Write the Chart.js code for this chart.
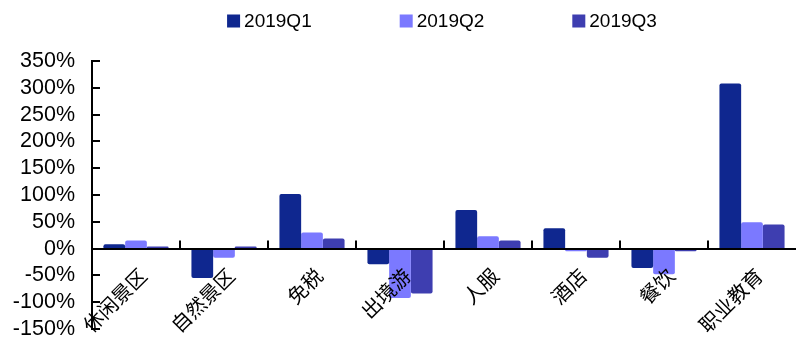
<!DOCTYPE html>
<html>
<head>
<meta charset="utf-8">
<title>2019 行业增速</title>
<script src="https://cdn.jsdelivr.net/npm/chart.js@4"></script>
<style>
    html, body { margin: 0; padding: 0; background: #ffffff; }
    #wrap { width: 796px; height: 340px; }
</style>
</head>
<body>
<div id="wrap"><canvas id="growthChart" width="796" height="340"></canvas></div>
<script>
// 各板块同比增速（%）
const categories = ["休闲景区", "自然景区", "免税", "出境游", "人服", "酒店", "餐饮", "职业教育"];
const seriesNames = ["2019Q1", "2019Q2", "2019Q3"];
const q1Values = [8, -55, 102, -29, 72, 38, -36, 308];
const q2Values = [15, -17, 30, -92, 23, -5, -48, 49];
const q3Values = [4, 4, 19, -84, 15, -17, -5, 45];
const yTicks = [-150, -100, -50, 0, 50, 100, 150, 200, 250, 300, 350];

const colors = ["#0f278f", "#7b79ff", "#3e3eb0"];
const latin = "'Liberation Sans', Arial, sans-serif";

// 图例：居中画在顶部
const topLegend = {
    id: "topLegend",
    afterDraw(chart) {
        const ctx = chart.ctx;
        const sets = chart.data.datasets;
        const box = 13, gap = 4, space = 88;
        ctx.save();
        ctx.font = "19px " + latin;
        ctx.textBaseline = "middle";
        const widths = sets.map(ds => box + gap + ctx.measureText(ds.label).width);
        const total = widths.reduce((a, b) => a + b, 0) + space * (sets.length - 1);
        let x = (chart.chartArea.left + chart.chartArea.right) / 2 - 2 - total / 2;
        const y = 21;
        sets.forEach((ds, i) => {
            ctx.fillStyle = ds.backgroundColor;
            ctx.fillRect(x, y - box / 2, box, box);
            ctx.fillStyle = "#000000";
            ctx.fillText(ds.label, x + box + gap, y + 1);
            x += widths[i] + space;
        });
        ctx.restore();
    }
};

// 刻度线朝内：y 轴向右，x 轴在 0 线上向上
const innerTicks = {
    id: "innerTicks",
    afterDatasetsDraw(chart) {
        const ctx = chart.ctx;
        const xs = chart.scales.x;
        const ys = chart.scales.y;
        const left = chart.chartArea.left;
        const zeroY = ys.getPixelForValue(0);
        ctx.save();
        ctx.strokeStyle = "#000000";
        ctx.lineWidth = 2;
        ctx.beginPath();
        yTicks.forEach(v => {
            const py = Math.round(ys.getPixelForValue(v));
            ctx.moveTo(left, py);
            ctx.lineTo(left + 8, py);
        });
        for (let i = 1; i < categories.length; i++) {
            const px = Math.round((xs.getPixelForValue(i - 1) + xs.getPixelForValue(i)) / 2);
            ctx.moveTo(px, zeroY);
            ctx.lineTo(px, zeroY - 8);
        }
        ctx.stroke();
        ctx.restore();
    }
};

const datasets = [q1Values, q2Values, q3Values].map((values, idx) => ({
    label: seriesNames[idx],
    data: values,
    backgroundColor: colors[idx],
    borderWidth: 0,
    borderRadius: 2,
    categoryPercentage: 0.74,
    barPercentage: 1
}));

new Chart(document.getElementById("growthChart").getContext("2d"), {
    type: "bar",
    data: {
        labels: categories,
        datasets
    },
    options: {
        responsive: false,
        animation: false,
        layout: {
            padding: { top: 61, bottom: 11, right: 0, left: 0 }
        },
        plugins: {
            legend: { display: false },
            tooltip: { enabled: false }
        },
        scales: {
            x: {
                position: { y: 0 },
                grid: { display: false, drawTicks: false },
                // 0 轴线和类目标签压在柱子上面
                border: { display: true, color: "#000000", width: 2, z: 1 },
                ticks: {
                    z: 1,
                    autoSkip: false,
                    minRotation: 45,
                    maxRotation: 45,
                    padding: 15,
                    labelOffset: 7,
                    color: "#000000",
                    font: { family: "'Noto Sans CJK SC', sans-serif", size: 20 }
                }
            },
            y: {
                min: -150,
                max: 350,
                // 固定左侧宽度，去掉标签带来的上下留白
                afterFit: scale => {
                    scale.width = 92;
                    scale.paddingTop = 0;
                    scale.paddingBottom = 0;
                },
                afterBuildTicks: scale => {
                    scale.ticks = yTicks.map(v => ({ value: v }));
                },
                grid: { display: false, drawTicks: false },
                border: { display: true, color: "#000000", width: 2 },
                ticks: {
                    autoSkip: false,
                    padding: 17,
                    color: "#000000",
                    font: { family: latin, size: 21.5 },
                    callback: v => v + "%"
                }
            }
        }
    },
    plugins: [topLegend, innerTicks]
});
</script>
</body>
</html>
